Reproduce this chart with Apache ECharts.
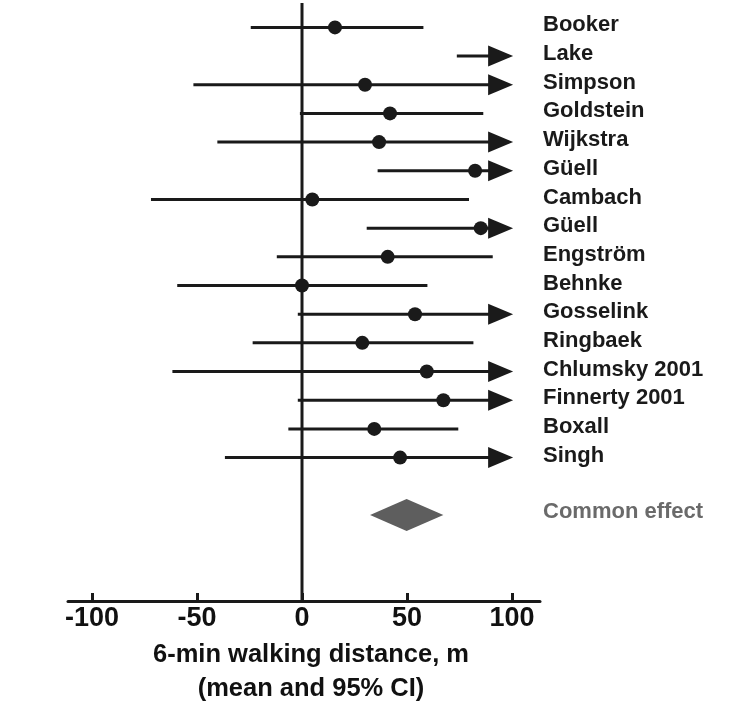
<!DOCTYPE html>
<html>
<head>
<meta charset="utf-8">
<script src="https://cdn.jsdelivr.net/npm/echarts@6/dist/echarts.min.js"></script>
<style>html,body{margin:0;padding:0;background:#fff}#c{width:737px;height:701px}</style>
</head>
<body>
<div id="c"></div>
<script>
// ---- data ----
const studies = ["Booker","Lake","Simpson","Goldstein","Wijkstra","Güell","Cambach","Güell","Engström","Behnke","Gosselink","Ringbaek","Chlumsky 2001","Finnerty 2001","Boxall","Singh"];
const means   = [15.7, null, 30, 41.9, 36.7, 82.4, 4.9, 85.1, 40.8, 0, 53.8, 28.7, 59.4, 67.3, 34.4, 46.7];
const lowers  = [-24.4, 73.7, -51.7, -1, -40.3, 36, -71.9, 30.8, -12, -59.4, -2, -23.5, -61.7, -2, -6.5, -36.7];
const uppers  = [57.8, null, null, 86.3, null, null, 79.5, null, 90.8, 59.7, null, 81.6, null, null, 74.4, null]; // null = beyond axis (arrow)
const pooledLabel = "Common effect";
const pooled = {mean: 49.8, lower: 32.4, upper: 67.3};
const xTicks = [-100, -50, 0, 50, 100];
const xMin = -111.4, xMax = 113.3;
const arrowEnd = 100.5;
const pooledRow = studies.length + 1;

const rows = studies.map((s, i) => [i, lowers[i], means[i], uppers[i], s]);

const chart = echarts.init(document.getElementById('c'));
const FONT = '"Liberation Sans", Arial, sans-serif';
const INK = '#1a1a1a';

chart.setOption({
  animation: false,
  grid: {left: 68, right: 197, top: 3, bottom: 100, containLabel: false, outerBoundsMode: 'none'},
  xAxis: {
    type: 'value', min: xMin, max: xMax,
    splitLine: {show: false},
    axisLine: {show: true, onZero: false, lineStyle: {color: INK, width: 3}},
    axisTick: {show: true, inside: true, length: 8, customValues: xTicks, lineStyle: {color: INK, width: 3}},
    axisLabel: {customValues: xTicks, margin: 4, color: '#111', fontFamily: FONT, fontWeight: 'bold', fontSize: 27, lineHeight: 28},
    name: '6-min walking distance, m\n(mean and 95% CI)',
    nameLocation: 'middle', nameGap: 36,
    nameTextStyle: {color: '#111', fontFamily: FONT, fontWeight: 'bold', fontSize: 25.5, lineHeight: 34, padding: [0, 0, 0, 14]}
  },
  yAxis: {type: 'value', inverse: true, min: -0.85, max: 20, show: false},
  series: [
    {
      type: 'custom', silent: true,
      data: [[0, -0.85, 20]],
      renderItem: (params, api) => {
        const a = api.coord([api.value(0), api.value(1)]);
        const b = api.coord([api.value(0), api.value(2)]);
        return {type: 'line', shape: {x1: a[0], y1: a[1], x2: b[0], y2: b[1]}, style: {stroke: INK, lineWidth: 3}};
      }
    },
    {
      type: 'custom', silent: true,
      data: rows,
      renderItem: (params, api) => {
        const i = api.value(0);
        const lo = api.value(1), mu = rows[params.dataIndex][2], hi = rows[params.dataIndex][3];
        const arrow = hi === null;
        const pL = api.coord([lo, i]);
        const children = [];
        const y = pL[1];
        if (arrow) {
          const tip = api.coord([arrowEnd, i])[0];
          const base = tip - 25;
          children.push({type: 'line', shape: {x1: pL[0], y1: y, x2: base + 2, y2: y}, style: {stroke: INK, lineWidth: 3}});
          children.push({type: 'polygon', shape: {points: [[base, y - 10.5], [tip, y], [base, y + 10.5]]}, style: {fill: INK}});
        } else {
          const pH = api.coord([hi, i]);
          children.push({type: 'line', shape: {x1: pL[0], y1: y, x2: pH[0], y2: y}, style: {stroke: INK, lineWidth: 3}});
        }
        if (mu !== null) {
          const pm = api.coord([mu, i]);
          children.push({type: 'circle', shape: {cx: pm[0], cy: y, r: 7}, style: {fill: INK}});
        }
        const lx = api.coord([xMax, i])[0] + 3;
        children.push({type: 'text', style: {x: lx, y: y - 2, text: rows[params.dataIndex][4], fill: INK, font: 'bold 22px ' + FONT, verticalAlign: 'middle', align: 'left'}});
        return {type: 'group', children};
      }
    },
    {
      type: 'custom', silent: true,
      data: [[pooledRow, pooled.lower, pooled.mean, pooled.upper]],
      renderItem: (params, api) => {
        const r = api.value(0);
        const pL = api.coord([api.value(1), r]);
        const pM = api.coord([api.value(2), r]);
        const pH = api.coord([api.value(3), r]);
        const h = 16;
        const lx = api.coord([xMax, r])[0] + 3;
        return {type: 'group', children: [
          {type: 'polygon', shape: {points: [[pL[0], pL[1]], [pM[0], pM[1] - h], [pH[0], pH[1]], [pM[0], pM[1] + h]]}, style: {fill: '#5e5e5e'}},
          {type: 'text', style: {x: lx, y: pL[1] - 3, text: pooledLabel, fill: '#6a6a6a', font: 'bold 22px ' + FONT, verticalAlign: 'middle', align: 'left'}}
        ]};
      }
    }
  ]
});
</script>
</body>
</html>
